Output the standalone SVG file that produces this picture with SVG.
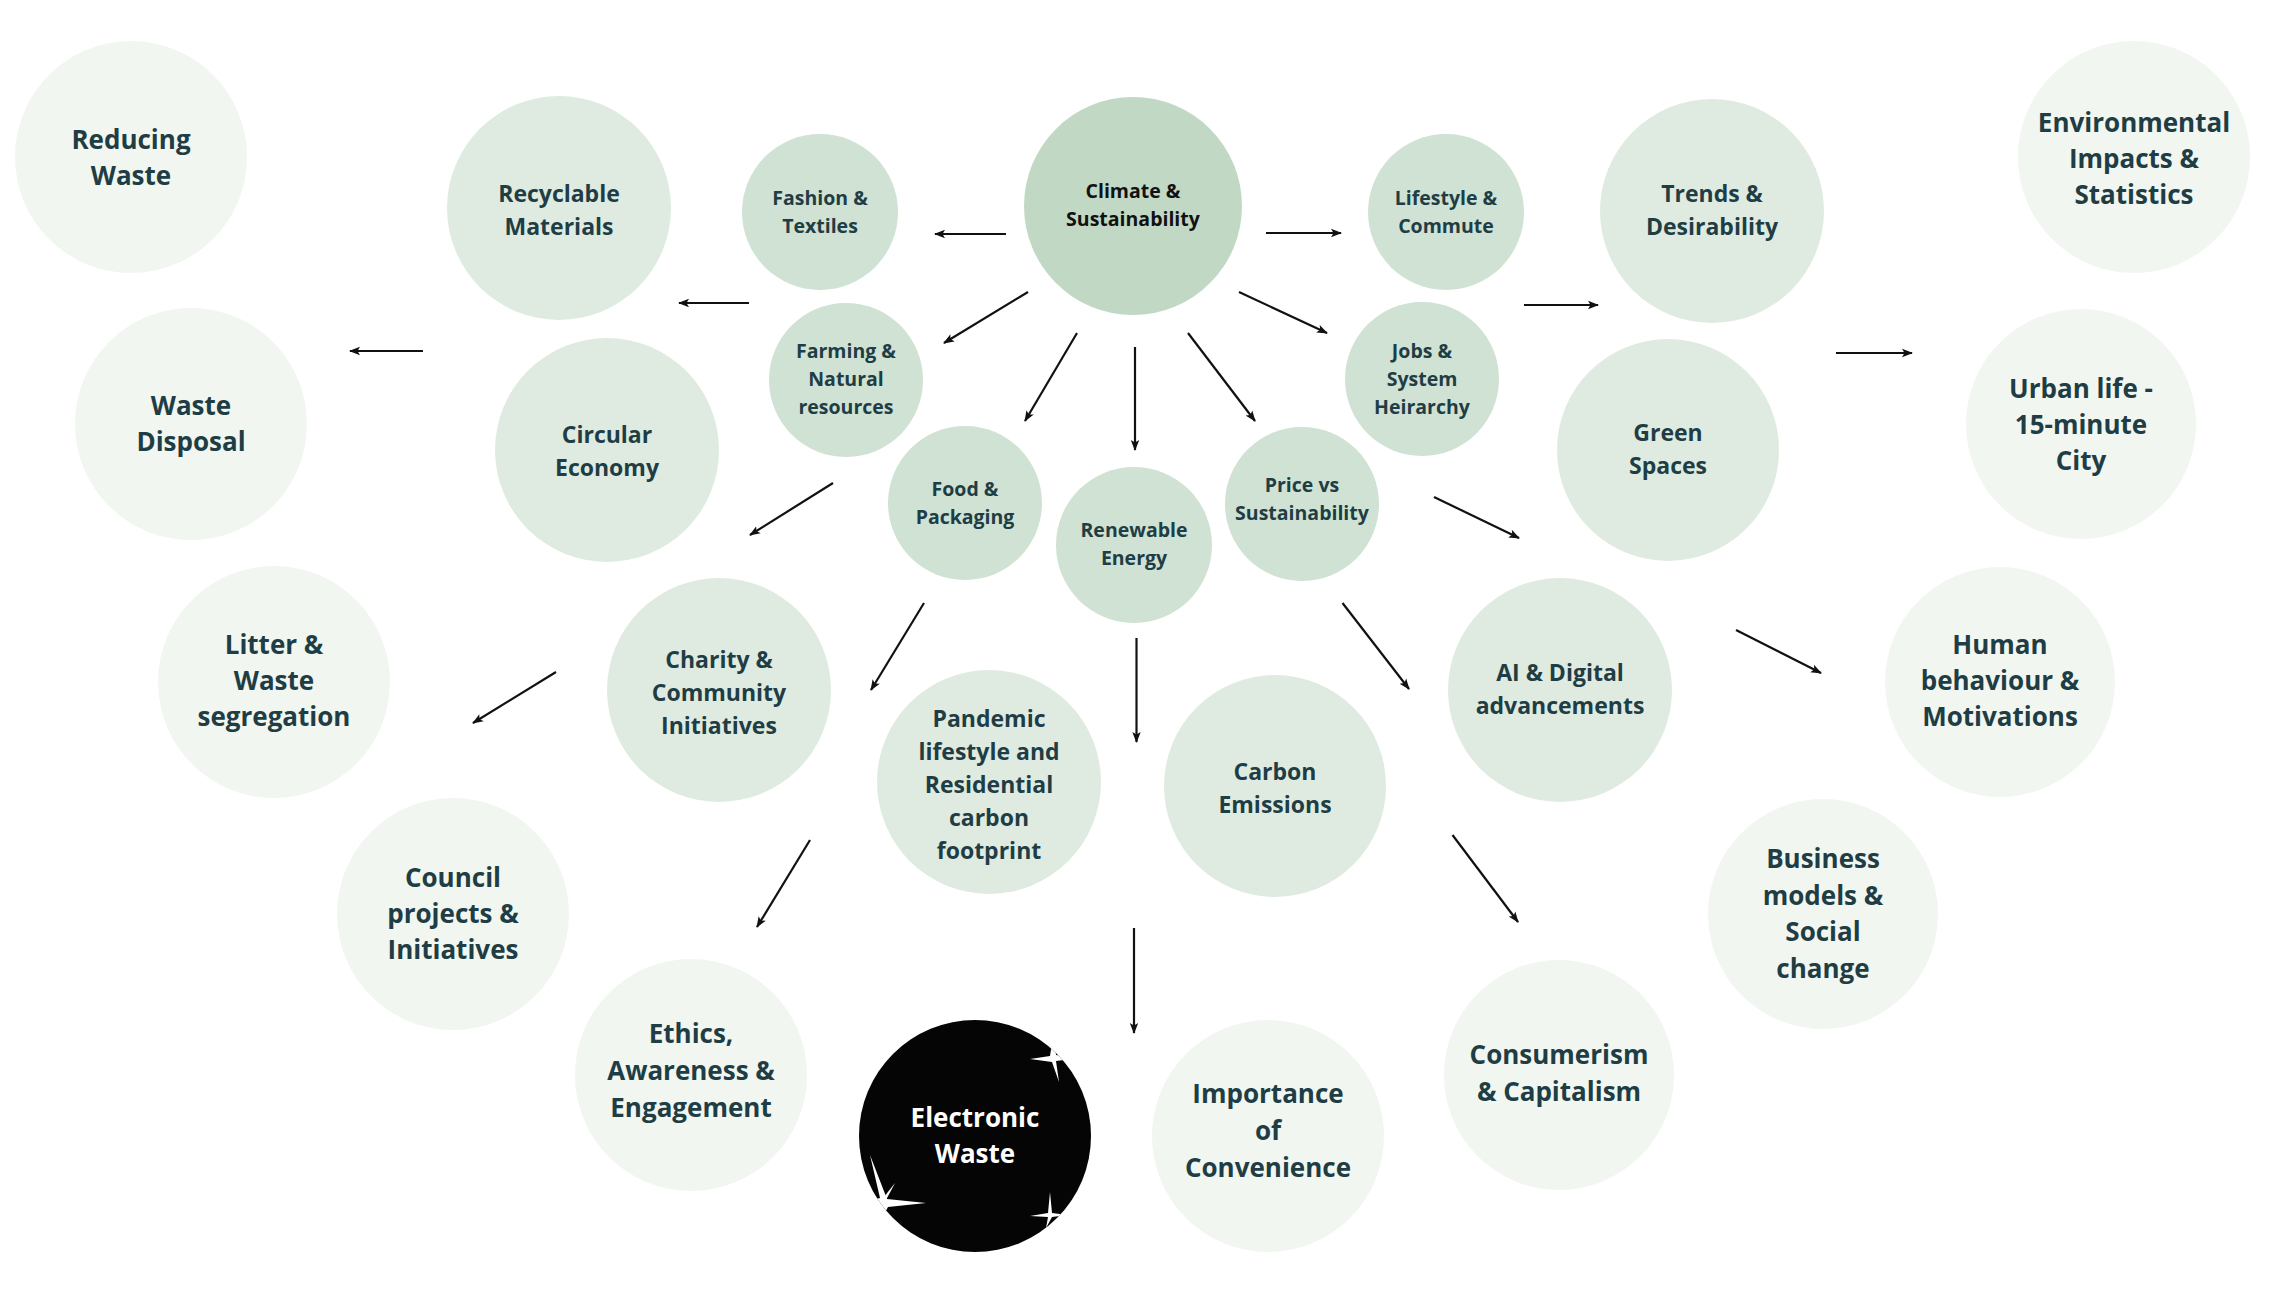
<svg xmlns="http://www.w3.org/2000/svg" width="2270" height="1312" viewBox="0 0 2270 1312">
<defs>
<style>
.o{fill:#f1f6f0}
.m{fill:#dfebe0}
.i{fill:#cfe2d3}
.c{fill:#c1d8c5}
.k{fill:#050505}
text{font-family:"Open Sans","Liberation Sans",sans-serif;font-weight:700;text-anchor:middle;fill:#1f3d44}
.to{font-size:26px}
.tm{font-size:23px}
.ti{font-size:19.5px}
.tc{font-size:19.5px;fill:#111}
.tw{font-size:26px;fill:#ffffff}
.cn line{stroke:#111;stroke-width:2.2;marker-end:url(#ah)}
.sp{fill:#ffffff}
</style>
<marker id="ah" markerWidth="11" markerHeight="10" viewBox="0 0 11 10" refX="10" refY="5" orient="auto" markerUnits="userSpaceOnUse">
<path d="M0,0.8 L11,5 L0,9.2 L2.5,5 Z" fill="#111"/>
</marker>
<clipPath id="ewclip"><circle cx="975" cy="1136" r="116"/></clipPath>
</defs>
<rect width="2270" height="1312" fill="#ffffff"/>

<g id="connectors" class="cn">
<line x1="1006" y1="234" x2="935" y2="234"/>
<line x1="1266" y1="233" x2="1341" y2="233"/>
<line x1="1028" y1="292" x2="944" y2="343"/>
<line x1="1239" y1="292" x2="1327" y2="333"/>
<line x1="1077" y1="333" x2="1025" y2="421"/>
<line x1="1135" y1="347" x2="1135" y2="450"/>
<line x1="1188" y1="333" x2="1255" y2="421"/>
<line x1="749" y1="303" x2="679" y2="303"/>
<line x1="1524" y1="305" x2="1598" y2="305"/>
<line x1="423" y1="351" x2="350" y2="351"/>
<line x1="1836" y1="353" x2="1912" y2="353"/>
<line x1="833" y1="483" x2="750" y2="535"/>
<line x1="1434" y1="497" x2="1519" y2="538"/>
<line x1="924" y1="603" x2="871" y2="690"/>
<line x1="1136.5" y1="638" x2="1136.5" y2="742"/>
<line x1="1342.5" y1="603" x2="1409" y2="689"/>
<line x1="556" y1="672" x2="473" y2="723"/>
<line x1="1736" y1="630" x2="1821" y2="673"/>
<line x1="810" y1="840" x2="757" y2="927"/>
<line x1="1134" y1="928" x2="1134" y2="1033"/>
<line x1="1452.5" y1="835" x2="1518" y2="922"/>
</g>

<g id="climate"><circle class="c" cx="1133" cy="206" r="109"/><text class="tc"><tspan x="1133" y="198">Climate &amp;</tspan><tspan x="1133" y="226">Sustainability</tspan></text></g>

<g id="fashion"><circle class="i" cx="820" cy="212" r="78"/><text class="ti"><tspan x="820" y="205">Fashion &amp;</tspan><tspan x="820" y="233">Textiles</tspan></text></g>
<g id="lifestyle"><circle class="i" cx="1446" cy="212" r="78"/><text class="ti"><tspan x="1446" y="205">Lifestyle &amp;</tspan><tspan x="1446" y="233">Commute</tspan></text></g>
<g id="farming"><circle class="i" cx="846" cy="380" r="77"/><text class="ti"><tspan x="846" y="358">Farming &amp;</tspan><tspan x="846" y="386">Natural</tspan><tspan x="846" y="414">resources</tspan></text></g>
<g id="jobs"><circle class="i" cx="1422" cy="379" r="77"/><text class="ti"><tspan x="1422" y="358">Jobs &amp;</tspan><tspan x="1422" y="386">System</tspan><tspan x="1422" y="414">Heirarchy</tspan></text></g>
<g id="food"><circle class="i" cx="965" cy="503" r="77"/><text class="ti"><tspan x="965" y="496">Food &amp;</tspan><tspan x="965" y="524">Packaging</tspan></text></g>
<g id="renewable"><circle class="i" cx="1134" cy="545" r="78"/><text class="ti"><tspan x="1134" y="537">Renewable</tspan><tspan x="1134" y="565">Energy</tspan></text></g>
<g id="price"><circle class="i" cx="1302" cy="504" r="77"/><text class="ti"><tspan x="1302" y="492">Price vs</tspan><tspan x="1302" y="520">Sustainability</tspan></text></g>

<g id="recyclable"><circle class="m" cx="559" cy="208" r="112"/><text class="tm"><tspan x="559" y="202">Recyclable</tspan><tspan x="559" y="235">Materials</tspan></text></g>
<g id="trends"><circle class="m" cx="1712" cy="211" r="112"/><text class="tm"><tspan x="1712" y="202">Trends &amp;</tspan><tspan x="1712" y="235">Desirability</tspan></text></g>
<g id="circular"><circle class="m" cx="607" cy="450" r="112"/><text class="tm"><tspan x="607" y="443">Circular</tspan><tspan x="607" y="476">Economy</tspan></text></g>
<g id="green"><circle class="m" cx="1668" cy="450" r="111"/><text class="tm"><tspan x="1668" y="441">Green</tspan><tspan x="1668" y="474">Spaces</tspan></text></g>
<g id="charity"><circle class="m" cx="719" cy="690" r="112"/><text class="tm"><tspan x="719" y="668">Charity &amp;</tspan><tspan x="719" y="701">Community</tspan><tspan x="719" y="734">Initiatives</tspan></text></g>
<g id="ai"><circle class="m" cx="1560" cy="690" r="112"/><text class="tm"><tspan x="1560" y="681">AI &amp; Digital</tspan><tspan x="1560" y="714">advancements</tspan></text></g>
<g id="pandemic"><circle class="m" cx="989" cy="782" r="112"/><text class="tm"><tspan x="989" y="727">Pandemic</tspan><tspan x="989" y="760">lifestyle and</tspan><tspan x="989" y="793">Residential</tspan><tspan x="989" y="826">carbon</tspan><tspan x="989" y="859">footprint</tspan></text></g>
<g id="carbon"><circle class="m" cx="1275" cy="786" r="111"/><text class="tm"><tspan x="1275" y="780">Carbon</tspan><tspan x="1275" y="813">Emissions</tspan></text></g>

<g id="reducing"><circle class="o" cx="131" cy="157" r="116"/><text class="to"><tspan x="131" y="149">Reducing</tspan><tspan x="131" y="185">Waste</tspan></text></g>
<g id="environmental"><circle class="o" cx="2134" cy="157" r="116"/><text class="to"><tspan x="2134" y="132">Environmental</tspan><tspan x="2134" y="168">Impacts &amp;</tspan><tspan x="2134" y="204">Statistics</tspan></text></g>
<g id="disposal"><circle class="o" cx="191" cy="424" r="116"/><text class="to"><tspan x="191" y="415">Waste</tspan><tspan x="191" y="451">Disposal</tspan></text></g>
<g id="urban"><circle class="o" cx="2081" cy="424" r="115"/><text class="to"><tspan x="2081" y="398">Urban life -</tspan><tspan x="2081" y="434">15-minute</tspan><tspan x="2081" y="470">City</tspan></text></g>
<g id="litter"><circle class="o" cx="274" cy="682" r="116"/><text class="to"><tspan x="274" y="654">Litter &amp;</tspan><tspan x="274" y="690">Waste</tspan><tspan x="274" y="726">segregation</tspan></text></g>
<g id="human"><circle class="o" cx="2000" cy="682" r="115"/><text class="to"><tspan x="2000" y="654">Human</tspan><tspan x="2000" y="690">behaviour &amp;</tspan><tspan x="2000" y="726">Motivations</tspan></text></g>
<g id="council"><circle class="o" cx="453" cy="914" r="116"/><text class="to"><tspan x="453" y="887">Council</tspan><tspan x="453" y="923">projects &amp;</tspan><tspan x="453" y="959">Initiatives</tspan></text></g>
<g id="business"><circle class="o" cx="1823" cy="914" r="115"/><text class="to"><tspan x="1823" y="868">Business</tspan><tspan x="1823" y="905">models &amp;</tspan><tspan x="1823" y="941">Social</tspan><tspan x="1823" y="978">change</tspan></text></g>
<g id="ethics"><circle class="o" cx="691" cy="1075" r="116"/><text class="to"><tspan x="691" y="1043">Ethics,</tspan><tspan x="691" y="1080">Awareness &amp;</tspan><tspan x="691" y="1117">Engagement</tspan></text></g>
<g id="consumerism"><circle class="o" cx="1559" cy="1075" r="115"/><text class="to"><tspan x="1559" y="1064">Consumerism</tspan><tspan x="1559" y="1101">&amp; Capitalism</tspan></text></g>
<g id="importance"><circle class="o" cx="1268" cy="1136" r="116"/><text class="to"><tspan x="1268" y="1103">Importance</tspan><tspan x="1268" y="1140">of</tspan><tspan x="1268" y="1177">Convenience</tspan></text></g>

<g id="electronic">
<circle class="k" cx="975" cy="1136" r="116"/>
<g clip-path="url(#ewclip)">
<path class="sp" d="M1054,1030 L1056,1055 L1080,1058 L1056,1061 L1059,1082 L1052,1062 L1030,1059 L1050,1056 Z"/>
<path class="sp" d="M870,1155 L887,1199 L926,1203 L888,1207 L880,1222 L881,1206 L858,1203 L880,1198 Z"/>
<path class="sp" d="M895,1183 L886,1200 L884,1197 Z"/>
<path class="sp" d="M1050,1192 L1052,1213 L1068,1215 L1052,1217 L1046,1228 L1048,1217 L1030,1216 L1048,1213 Z"/>
</g>
<text class="tw"><tspan x="975" y="1127">Electronic</tspan><tspan x="975" y="1163">Waste</tspan></text>
</g>
</svg>
